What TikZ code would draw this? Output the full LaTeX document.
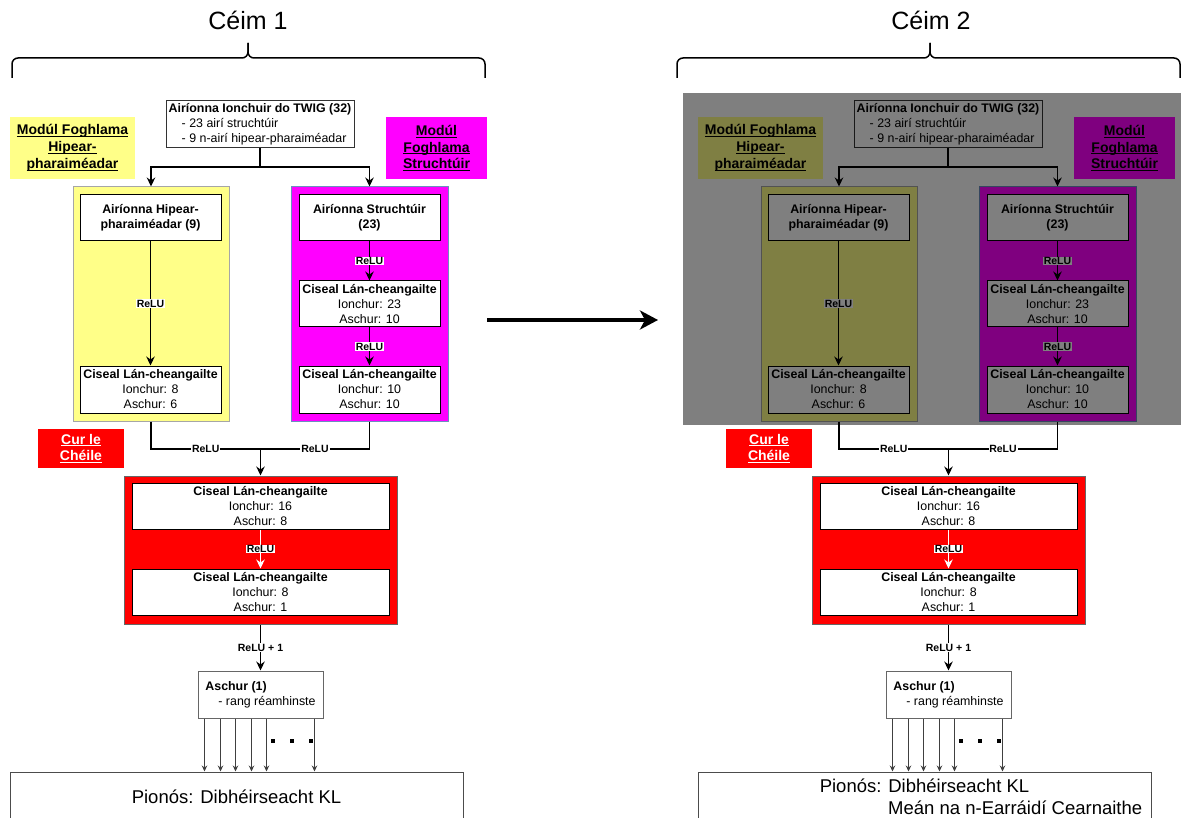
\documentclass[tikz,border=0pt]{standalone}
\usepackage{fontspec}
\setmainfont{Liberation Sans}
\usetikzlibrary{arrows.meta,calc}

\definecolor{paleyellow}{HTML}{FFFF88}
\definecolor{vivmag}{HTML}{FF00FF}
\definecolor{magedge}{HTML}{6C8EBF}
\newcommand\fsz[2]{\fontsize{#1}{#2}\selectfont}
% underline at a fixed depth below the baseline
\newsavebox\ulbox
\newcommand\ulx[1]{\leavevmode\sbox\ulbox{#1}\rlap{\rule[-2.2pt]{\wd\ulbox}{1pt}}\usebox\ulbox}

\tikzset{
  unit/.style={draw=black, line width=1pt, fill=white, align=center,
    inner sep=0pt, font=\fsz{12.4}{15}},
  group/.style={line width=1pt, inner sep=0pt},
  tag/.style={align=center, inner sep=0pt, font=\bfseries\fsz{14}{16.7}},
  flow/.style={line width=1.5pt, -{Stealth[length=9pt,width=8.5pt,inset=3pt]}},
  wire/.style={line width=1.5pt},
  relu/.style={fill=white, inner sep=0.8pt, font=\bfseries\fsz{10.5}{12}},
  fan/.style={draw=black!75, line width=0.9pt, -{Stealth[length=6pt,width=5.5pt,inset=2pt]}},
  brace/.style={line width=1.5pt, rounded corners=6pt},
}

% one training stage: inputs, the two learning modules, the merge and the output
\newcommand\stagebody{%
  \node[unit, draw=black!80, align=left, minimum width=188pt, minimum height=47pt] (in) at (260,124.5)
    {\textbf{Airíonna Ionchuir do TWIG (32)}\\\hspace*{13pt}- 23 airí struchtúir\\\hspace*{13pt}- 9 n-airí hipear-pharaiméadar};
  \node[tag, fill=paleyellow, minimum width=125pt, minimum height=62pt] (ylab) at (72.5,148)
    {\ulx{Modúl Foghlama}\\\ulx{Hipear-}\\\ulx{pharaiméadar}};
  \node[tag, fill=vivmag, minimum width=101pt, minimum height=62pt] (mlab) at (436.5,148)
    {\ulx{Modúl}\\\ulx{Foghlama}\\\ulx{Struchtúir}};
  % learning module containers
  \node[group, draw=black!35, fill=paleyellow, minimum width=156pt, minimum height=234pt] (ybox) at (151,304) {};
  \node[group, draw=magedge, fill=vivmag, minimum width=157pt, minimum height=234pt] (mbox) at (369.5,304) {};
  \node[unit, font=\bfseries\fsz{12.4}{15}, minimum width=141pt, minimum height=46pt] (yin) at (150.5,218)
    {Airíonna Hipear-\\pharaiméadar (9)};
  \node[unit, minimum width=141pt, minimum height=47pt] (yfc) at (150.5,389.5)
    {\textbf{Ciseal Lán-cheangailte}\\Ionchur: 8\\Aschur: 6};
  \node[unit, font=\bfseries\fsz{12.4}{15}, minimum width=141pt, minimum height=46pt] (min) at (369.5,218)
    {Airíonna Struchtúir\\(23)};
  \node[unit, minimum width=141pt, minimum height=46pt] (mfca) at (369.5,304)
    {\textbf{Ciseal Lán-cheangailte}\\Ionchur: 23\\Aschur: 10};
  \node[unit, minimum width=141pt, minimum height=47pt] (mfcb) at (369.5,389.5)
    {\textbf{Ciseal Lán-cheangailte}\\Ionchur: 10\\Aschur: 10};
  % combining block
  \node[tag, fill=red, text=white, minimum width=86pt, minimum height=39pt] (cur) at (81,448.5)
    {\ulx{Cur le}\\\ulx{Chéile}};
  \node[group, draw=black!60, fill=red, minimum width=273pt, minimum height=148pt] (rbox) at (260.5,550) {};
  \node[unit, minimum width=257pt, minimum height=46pt] (rfca) at (260.5,506)
    {\textbf{Ciseal Lán-cheangailte}\\Ionchur: 16\\Aschur: 8};
  \node[unit, minimum width=257pt, minimum height=46pt] (rfcb) at (260.5,592)
    {\textbf{Ciseal Lán-cheangailte}\\Ionchur: 8\\Aschur: 1};
  \node[unit, draw=black!60, align=left, minimum width=125pt, minimum height=47pt] (out) at (260.5,694.5)
    {\textbf{Aschur (1)}\\\hspace*{13pt}- rang réamhinste};
  \node[group, draw=black!70, fill=white, minimum width=453pt, minimum height=68pt] (pen) at (236.5,806) {};
  % connectors
  \coordinate (split) at (260,167);
  \draw[wire] (in.south) -- (split);
  \draw[flow] (split) -| (ybox.north);
  \draw[flow] (split) -| (mbox.north);
  \draw[flow] (yin.south) -- node[relu] {ReLU} (yfc.north);
  \draw[flow] (min.south) -- node[relu] {ReLU} (mfca.north);
  \draw[flow] (mfca.south) -- node[relu] {ReLU} (mfcb.north);
  \coordinate (merge) at (260.5,449);
  \draw[wire] (ybox.south) |- node[relu, pos=0.75] {ReLU} (merge);
  \draw[wire] (mbox.south) |- node[relu, pos=0.75] {ReLU} (merge);
  \draw[flow] (merge) -- (rbox.north);
  \draw[flow, white] (rfca.south) -- node[relu, text=black] {ReLU} (rfcb.north);
  \draw[flow] (rbox.south) -- node[relu] {ReLU + 1} (out.north);
  \foreach \dx in {7,23,38,54,69,117}
    \draw[fan] ($(out.south west)+(\dx,0)$) -- ($(out.south west |- pen.north)+(\dx,0)$);
  \foreach \px in {273,292,311}
    \fill (\px-2,739) rectangle (\px+2,743);
}

\begin{document}
\begin{tikzpicture}[x=1pt, y=-1pt]
  \useasboundingbox (0,0) rectangle (1181,818);
  \fill[white] (0,0) rectangle (1181,818);
  \clip (0,0) rectangle (1181,818);

  % stage titles and braces
  \node[font=\fsz{25}{30}, anchor=base, inner sep=0pt] (t1) at (248,30) {Céim 1};
  \draw[brace] (12,78) |- (248,58) -- (248,43);
  \draw[brace] (485,78) |- (248,58) -- (248,43);
  \node[font=\fsz{25}{30}, anchor=base, inner sep=0pt] (t2) at (931,30) {Céim 2};
  \draw[brace] (677,78) |- (930,58) -- (930,43);
  \draw[brace] (1180,78) |- (930,58) -- (930,43);

  \begin{scope}[name prefix=L-]
    \stagebody
    \node[font=\fsz{18.5}{22}, inner sep=0pt] (pentxt) at (236.5,797) {Pionós: Dibhéirseacht KL};
  \end{scope}

  \begin{scope}[xshift=688pt, name prefix=R-]
    \stagebody
    \node[font=\fsz{18.5}{22}, inner sep=0pt] (pentxta) at (236.5,786) {Pionós: Dibhéirseacht KL};
    \node[font=\fsz{18.5}{22}, inner sep=0pt, anchor=west] (pentxtb) at (200,808) {Meán na n-Earráidí Cearnaithe};
  \end{scope}

  % the first stage's modules are frozen in the second stage
  \fill[black, opacity=0.5] (683,93) rectangle (1181,425);

  % progression from stage 1 to stage 2
  \coordinate (go1) at (487,320);
  \coordinate (go2) at (658,320);
  \draw[line width=4pt, -{Stealth[length=18pt,width=19pt,inset=5pt]}] (go1) -- (go2);
\end{tikzpicture}
\end{document}
